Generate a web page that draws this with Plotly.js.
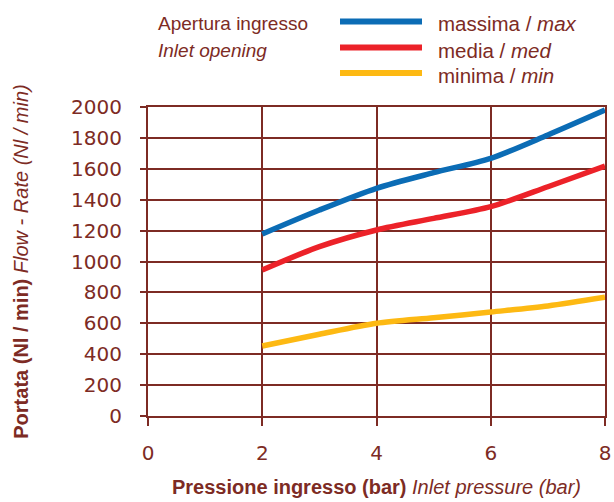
<!DOCTYPE html>
<html>
<head>
<meta charset="utf-8">
<script src="https://cdn.plot.ly/plotly-3.0.1.min.js"></script>
<style>
  html, body { margin: 0; padding: 0; background: #ffffff; }
  #chart { width: 614px; height: 502px; }
</style>
</head>
<body>
<div id="chart"></div>
<script>
// ---- Data ----
const inletPressure = [2, 3, 4, 5, 6, 7, 8];              // bar
const flowMax = [1178, 1333, 1474, 1575, 1668, 1819, 1980]; // Nl/min, massima
const flowMed = [945, 1096, 1204, 1279, 1355, 1484, 1618];  // Nl/min, media
const flowMin = [453, 529, 600, 636, 673, 712, 768];        // Nl/min, minima
const seriesNames = ['massima / <i>max</i>', 'media / <i>med</i>', 'minima / <i>min</i>'];
const legendHeader = ['Apertura ingresso', '<i>Inlet opening</i>'];
const xTickVals = [0, 2, 4, 6, 8];
const yTickVals = [0, 200, 400, 600, 800, 1000, 1200, 1400, 1600, 1800, 2000];
const xTitle = '<b>Pressione ingresso (bar)</b> <i>Inlet pressure (bar)</i>';
const yTitle = '<b>Portata (Nl / min)</b> <i>Flow - Rate (Nl / min)</i>';

// ---- Styles ----
const seriesColors = ['#0b6cb5', '#ec2229', '#fdb913'];
const ink = '#7d2b24';
const textFont = '"Liberation Sans", Arial, sans-serif';
const tickFont = '"DejaVu Sans", "Liberation Sans", sans-serif';

const W = 614, H = 502;
const M = { l: 148, r: 9, t: 107, b: 86 };
const PW = W - M.l - M.r, PH = H - M.t - M.b;
const px2x = px => (px - M.l) / PW;
const px2y = py => (H - M.b - py) / PH;

const seriesY = [flowMax, flowMed, flowMin];
const traces = seriesY.map((ys, i) => ({
  type: 'scatter',
  mode: 'lines',
  x: inletPressure,
  y: ys,
  name: seriesNames[i],
  line: { color: seriesColors[i], width: 5.5, shape: 'spline', smoothing: 0.8 },
  hoverinfo: 'x+y+name',
  showlegend: false
}));

// legend drawn manually to match the long swatches of the reference
const legendRowsPx = [21.5, 47.5, 73];
const legendTextPx = [24, 50, 75.5];
const shapes = legendRowsPx.map((py, i) => ({
  type: 'line', xref: 'paper', yref: 'paper',
  x0: px2x(340), x1: px2x(422), y0: px2y(py), y1: px2y(py),
  line: { color: seriesColors[i], width: 6 }
}));
const annotations = seriesNames.map((t, i) => ({
  xref: 'paper', yref: 'paper', x: px2x(436), y: px2y(legendTextPx[i]),
  xanchor: 'left', yanchor: 'middle', showarrow: false, text: t,
  font: { family: textFont, size: 20.5, color: ink }
})).concat(legendHeader.map((t, i) => ({
  xref: 'paper', yref: 'paper', x: px2x(156), y: px2y(legendTextPx[i]),
  xanchor: 'left', yanchor: 'middle', showarrow: false, text: t,
  font: { family: textFont, size: 19, color: ink }
})));

const layout = {
  width: W, height: H,
  margin: M,
  paper_bgcolor: '#ffffff',
  plot_bgcolor: '#ffffff',
  showlegend: false,
  font: { family: tickFont, color: ink },
  xaxis: {
    range: [0, 8],
    tickvals: xTickVals,
    ticktext: xTickVals.map(String),
    ticks: 'outside', ticklen: 8, tickwidth: 2, tickcolor: ink,
    ticklabelstandoff: 10,
    showgrid: true, gridcolor: ink, gridwidth: 2,
    zeroline: false,
    showline: true, linecolor: ink, linewidth: 2, mirror: true,
    tickfont: { family: tickFont, size: 20, color: ink },
    title: { text: xTitle, font: { family: textFont, size: 20, color: ink }, standoff: 16 },
    fixedrange: true
  },
  yaxis: {
    range: [0, 2000],
    tickvals: yTickVals,
    ticktext: yTickVals.map(String),
    ticks: 'outside', ticklen: 6, tickwidth: 2, tickcolor: ink,
    ticklabelstandoff: 14,
    showgrid: true, gridcolor: ink, gridwidth: 2,
    zeroline: false,
    showline: true, linecolor: ink, linewidth: 2, mirror: true,
    tickfont: { family: tickFont, size: 20, color: ink },
    title: { text: yTitle, font: { family: textFont, size: 20, color: ink }, standoff: 37 },
    fixedrange: true
  },
  shapes: shapes,
  annotations: annotations
};

Plotly.newPlot('chart', traces, layout, { displayModeBar: false, staticPlot: true });
</script>
</body>
</html>
